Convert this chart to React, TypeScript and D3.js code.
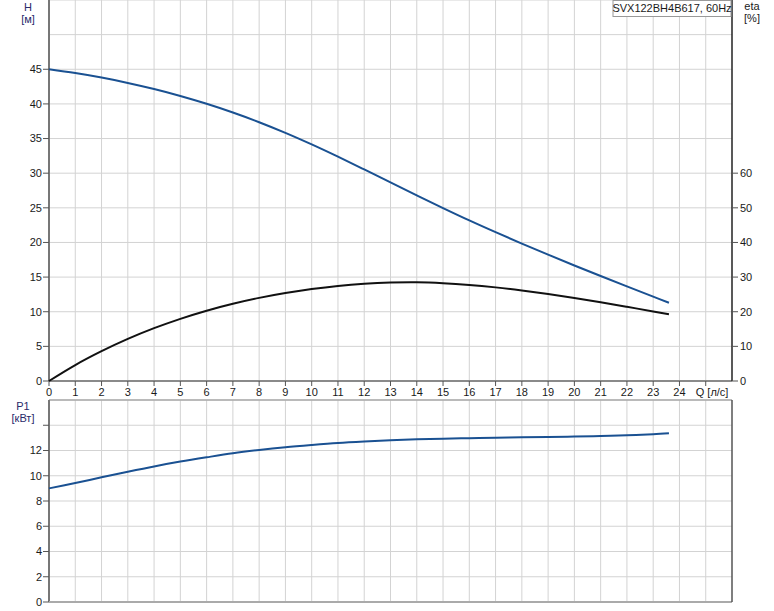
import React from "react";
import * as d3 from "d3";

// Data
const qH = [0, 1, 2, 3, 4, 5, 6, 7, 8, 9, 10, 11, 12, 13, 14, 15, 16, 17, 18, 19, 20, 21, 22, 23, 23.6];
const hVals = [45, 44.45, 43.8, 43.03, 42.15, 41.15, 40.02, 38.76, 37.36, 35.82, 34.15, 32.38, 30.54, 28.67, 26.8, 24.96, 23.18, 21.48, 19.84, 18.24, 16.68, 15.15, 13.65, 12.18, 11.3];

const qEta = [0, 1, 2, 3, 4, 5, 6, 7, 8, 9, 10, 11, 12, 13, 14, 15, 16, 17, 18, 19, 20, 21, 22, 23, 23.6];
const etaVals = [0, 4.6, 8.6, 12.15, 15.25, 17.95, 20.3, 22.3, 24.0, 25.4, 26.55, 27.45, 28.07, 28.42, 28.5, 28.25, 27.75, 27.03, 26.13, 25.09, 23.94, 22.71, 21.42, 20.09, 19.27];

const qP = [0, 1, 2, 3, 4, 5, 6, 7, 8, 9, 10, 11, 12, 13, 14, 15, 16, 17, 18, 19, 20, 21, 22, 23, 23.6];
const pVals = [9.0, 9.42, 9.88, 10.32, 10.74, 11.12, 11.46, 11.78, 12.04, 12.26, 12.44, 12.6, 12.72, 12.82, 12.89, 12.94, 12.98, 13.01, 13.04, 13.07, 13.1, 13.15, 13.21, 13.29, 13.36];

const qTicks = d3.range(0, 25);
const hTicks = [0, 5, 10, 15, 20, 25, 30, 35, 40, 45];
const hGrid = [0, 5, 10, 15, 20, 25, 30, 35, 40, 45, 50, 55];
const etaTicks = [0, 10, 20, 30, 40, 50, 60];
const pTicks = [0, 2, 4, 6, 8, 10, 12];
const pGrid = [0, 2, 4, 6, 8, 10, 12, 14, 16];

const title = "SVX122BH4B617, 60Hz";

const FONT = "'Liberation Sans', Arial, sans-serif";
const GRID = "#d3d3d3";
const BLUE = "#1a5192";
const TXT = "#1a1a1a";
const LBL = "#2a2a6a";

export default function App() {
  const x = d3.scaleLinear().domain([0, 26]).range([49, 732]);
  const yH = d3.scaleLinear().domain([0, 55]).range([381, 0]);
  const yEta = d3.scaleLinear().domain([0, 110]).range([381, 0]);
  const yP = d3.scaleLinear().domain([0, 16]).range([602, 400]);

  const lineH = d3.line<number>().x((_, i) => x(qH[i])).y((d) => yH(d)).curve(d3.curveCatmullRom);
  const lineEta = d3.line<number>().x((_, i) => x(qEta[i])).y((d) => yEta(d)).curve(d3.curveCatmullRom);
  const lineP = d3.line<number>().x((_, i) => x(qP[i])).y((d) => yP(d)).curve(d3.curveCatmullRom);

  const xL = x(0);
  const xR = x(26);

  return (
    <svg width={774} height={611} style={{ position: "absolute", left: 0, top: 0, background: "#fff" }} fontFamily={FONT}>
      {/* Top panel grid */}
      {qTicks.concat([25]).map((q) => (
        <line key={"vg" + q} x1={x(q)} x2={x(q)} y1={yH(55)} y2={yH(0)} stroke={GRID} strokeWidth={1} />
      ))}
      {hGrid.map((h) => (
        <line key={"hg" + h} x1={xL} x2={xR} y1={yH(h)} y2={yH(h)} stroke={GRID} strokeWidth={1} />
      ))}
      {/* Bottom panel grid */}
      {qTicks.concat([25]).map((q) => (
        <line key={"vgp" + q} x1={x(q)} x2={x(q)} y1={yP(16)} y2={yP(0)} stroke={GRID} strokeWidth={1} />
      ))}
      {pGrid.map((p) => (
        <line key={"pg" + p} x1={xL} x2={xR} y1={yP(p)} y2={yP(p)} stroke={GRID} strokeWidth={1} />
      ))}

      {/* Top panel axes */}
      <line x1={xL} x2={xL} y1={0} y2={yH(0)} stroke="#777" strokeWidth={2} />
      <line x1={xL} x2={xR} y1={yH(0)} y2={yH(0)} stroke="#8a8a8a" strokeWidth={2} />
      <line x1={xR} x2={xR} y1={0} y2={yH(0)} stroke="#222" strokeWidth={1.5} />
      {hTicks.map((h) => (
        <g key={"ht" + h}>
          <line x1={xL - 6} x2={xL} y1={yH(h)} y2={yH(h)} stroke="#555" />
          <text x={xL - 7} y={yH(h)} dy="0.35em" textAnchor="end" fontSize={11} fill={TXT}>{h}</text>
        </g>
      ))}
      {etaTicks.map((e) => (
        <g key={"et" + e}>
          <line x1={xR} x2={xR + 6} y1={yEta(e)} y2={yEta(e)} stroke="#555" />
          <text x={xR + 8} y={yEta(e)} dy="0.35em" textAnchor="start" fontSize={11} fill={TXT}>{e}</text>
        </g>
      ))}
      {qTicks.concat([25]).map((q) => (
        <line key={"qt" + q} x1={x(q)} x2={x(q)} y1={yH(0)} y2={yH(0) + 5} stroke="#555" />
      ))}
      {qTicks.map((q) => (
        <text key={"ql" + q} x={x(q)} y={392} dy="0.35em" textAnchor="middle" fontSize={11} fill={TXT}>{q}</text>
      ))}
      <text x={x(25) - 10} y={392} dy="0.35em" textAnchor="start" fontSize={11} fill={TXT}>Q [л/с]</text>

      {/* Bottom panel axes */}
      <line x1={xL} x2={xR} y1={yP(16)} y2={yP(16)} stroke="#aaa" strokeWidth={1.5} />
      <line x1={xL} x2={xL} y1={yP(16)} y2={yP(0)} stroke="#777" strokeWidth={2} />
      <line x1={xL} x2={xR} y1={yP(0)} y2={yP(0)} stroke="#aaa" strokeWidth={2} />
      <line x1={xR} x2={xR} y1={yP(16)} y2={yP(0)} stroke="#555" strokeWidth={1.5} />
      {pGrid.filter((p) => p < 16).map((p) => (
        <line key={"ptk" + p} x1={xL - 6} x2={xL} y1={yP(p)} y2={yP(p)} stroke="#555" />
      ))}
      {pTicks.map((p) => (
        <text key={"pt" + p} x={xL - 7} y={yP(p)} dy="0.35em" textAnchor="end" fontSize={11} fill={TXT}>{p}</text>
      ))}

      {/* Axis titles */}
      <text x={28} y={7} dy="0.35em" textAnchor="middle" fontSize={11} fill={LBL}>H</text>
      <text x={28} y={19} dy="0.35em" textAnchor="middle" fontSize={11} fill={LBL}>[м]</text>
      <text x={752} y={6} dy="0.35em" textAnchor="middle" fontSize={11} fill={TXT}>eta</text>
      <text x={752} y={18} dy="0.35em" textAnchor="middle" fontSize={11} fill={TXT}>[%]</text>
      <text x={23} y={406} dy="0.35em" textAnchor="middle" fontSize={11} fill={LBL}>P1</text>
      <text x={23} y={418} dy="0.35em" textAnchor="middle" fontSize={11} fill={LBL}>[кВт]</text>

      {/* Curves */}
      <path d={lineH(hVals) || ""} fill="none" stroke={BLUE} strokeWidth={2} />
      <path d={lineEta(etaVals) || ""} fill="none" stroke="#111" strokeWidth={2} />
      <path d={lineP(pVals) || ""} fill="none" stroke={BLUE} strokeWidth={2} />

      {/* Title box */}
      <rect x={613} y={0.5} width={118} height={16} fill="#fff" stroke="#999" strokeWidth={1} />
      <text x={672} y={8.5} dy="0.35em" textAnchor="middle" fontSize={11} fill={TXT}>{title}</text>
    </svg>
  );
}
